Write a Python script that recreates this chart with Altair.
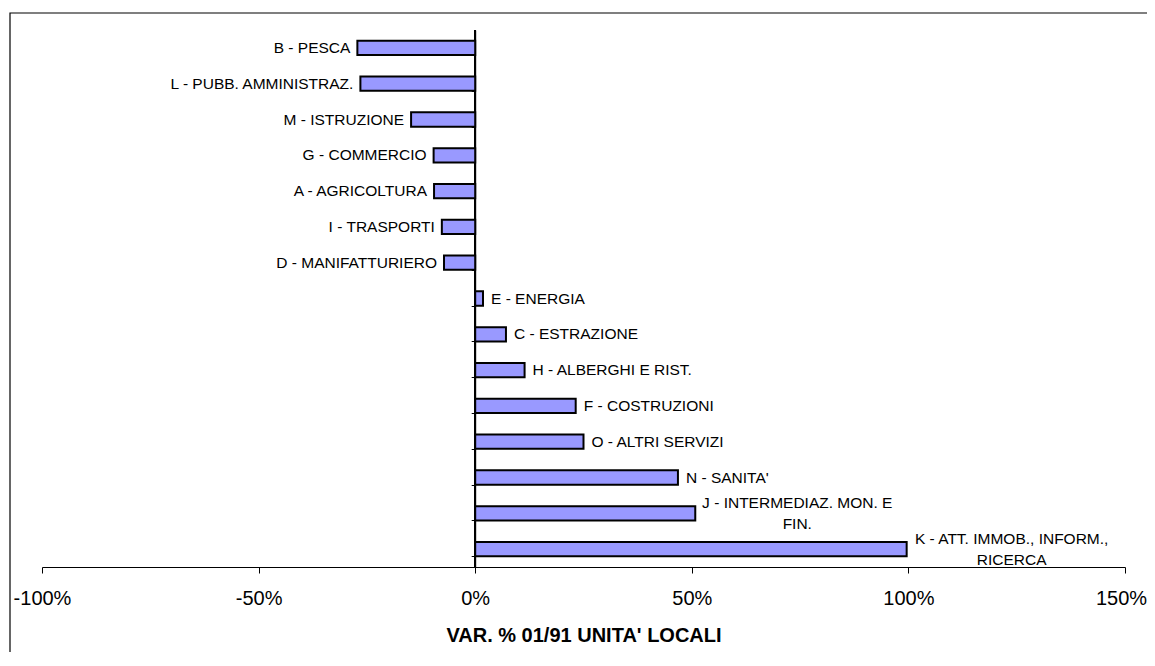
import altair as alt
import pandas as pd

categories = [
    "B - PESCA", "L - PUBB. AMMINISTRAZ.", "M - ISTRUZIONE", "G - COMMERCIO",
    "A - AGRICOLTURA", "I - TRASPORTI", "D - MANIFATTURIERO", "E - ENERGIA",
    "C - ESTRAZIONE", "H - ALBERGHI E RIST.", "F - COSTRUZIONI",
    "O - ALTRI SERVIZI", "N - SANITA'", "J - INTERMEDIAZ. MON. E FIN.",
    "K - ATT. IMMOB., INFORM., RICERCA",
]
labels = [
    "B - PESCA", "L - PUBB. AMMINISTRAZ.", "M - ISTRUZIONE", "G - COMMERCIO",
    "A - AGRICOLTURA", "I - TRASPORTI", "D - MANIFATTURIERO", "E - ENERGIA",
    "C - ESTRAZIONE", "H - ALBERGHI E RIST.", "F - COSTRUZIONI",
    "O - ALTRI SERVIZI", "N - SANITA'", "J - INTERMEDIAZ. MON. E|FIN.",
    "K - ATT. IMMOB., INFORM.,|RICERCA",
]
values = [-0.272, -0.265, -0.148, -0.096, -0.095, -0.077, -0.072,
          0.018, 0.071, 0.114, 0.232, 0.250, 0.468, 0.508, 0.996]
tick_values = [-1.0, -0.5, 0.0, 0.5, 1.0, 1.5]

df = pd.DataFrame({"cat": categories, "label": labels, "value": values})

W, H = 1083, 537
FONT = "Liberation Sans"

x_enc = alt.X(
    "value:Q",
    scale=alt.Scale(domain=[-1.0, 1.5], nice=False, zero=False),
    axis=alt.Axis(
        values=tick_values, format=".0%",
        labelExpr="replace(datum.label, '\u2212', '-')",
        labelOffset={"expr": "datum.value == 1.5 ? -4 : 0"},
        title="VAR. % 01/91 UNITA' LOCALI",
        grid=False, labelFontSize=20, labelFont=FONT, labelColor="black",
        labelFlush=False, labelPadding=15, tickSize=6, tickColor="black",
        domainColor="black", titleFont=FONT, titleFontSize=20,
        titleFontWeight="bold", titleColor="black", titlePadding=17,
    ),
)
y_enc = alt.Y(
    "cat:N", sort=categories,
    scale=alt.Scale(paddingInner=0.6, paddingOuter=0.3),
    axis=alt.Axis(
        title=None, labels=False, offset=-W * 100 / 250, tickBand="extent",
        tickSize=4, tickColor="black", domainColor="black", grid=False,
    ),
)

base = alt.Chart(df)

bars = base.mark_bar(color="#9999FF", stroke="black", strokeWidth=2).encode(
    x=x_enc, x2=alt.datum(0), y=y_enc
)

zero_line = base.mark_rule(color="black", strokeWidth=1).encode(x=alt.datum(0))

txt = dict(font=FONT, fontSize=15.5, color="black", baseline="middle")
y_txt = alt.Y("cat:N", sort=categories)

neg = base.transform_filter("datum.value < 0").mark_text(
    align="right", dx=-7, **txt
).encode(x="value:Q", y=y_txt, text="label:N")

pos = base.transform_filter(
    "datum.value >= 0 && indexof(datum.label, '|') < 0"
).mark_text(align="left", dx=8, **txt).encode(
    x="value:Q", y=y_txt, text="label:N"
)

lab_j = base.transform_filter(
    alt.datum.cat == categories[13]
).mark_text(align="center", dx=102, dy=-10.5, lineBreak="|", lineHeight=21,
            **txt).encode(x="value:Q", y=y_txt, text="label:N")
lab_k = base.transform_filter(
    alt.datum.cat == categories[14]
).mark_text(align="center", dx=105, dy=-10.5, lineBreak="|", lineHeight=21,
            **txt).encode(x="value:Q", y=y_txt, text="label:N")

frame = alt.Chart(alt.Data(values=[{}])).mark_rect(
    fillOpacity=0, stroke="black", strokeWidth=1.2
).encode(
    x=alt.value(-32), x2=alt.value(W + 80),
    y=alt.value(-17), y2=alt.value(H + 200),
)

chart = alt.layer(frame, zero_line, bars, neg, pos, lab_j, lab_k).properties(
    width=W, height=H, background="white",
    autosize=alt.AutoSizeParams(type="none"),
    padding={"left": 34, "top": 22, "right": 22, "bottom": 85},
).configure_view(stroke="transparent", strokeWidth=0)

chart.save("out.html", embed_options={"renderer": "svg", "actions": False})
